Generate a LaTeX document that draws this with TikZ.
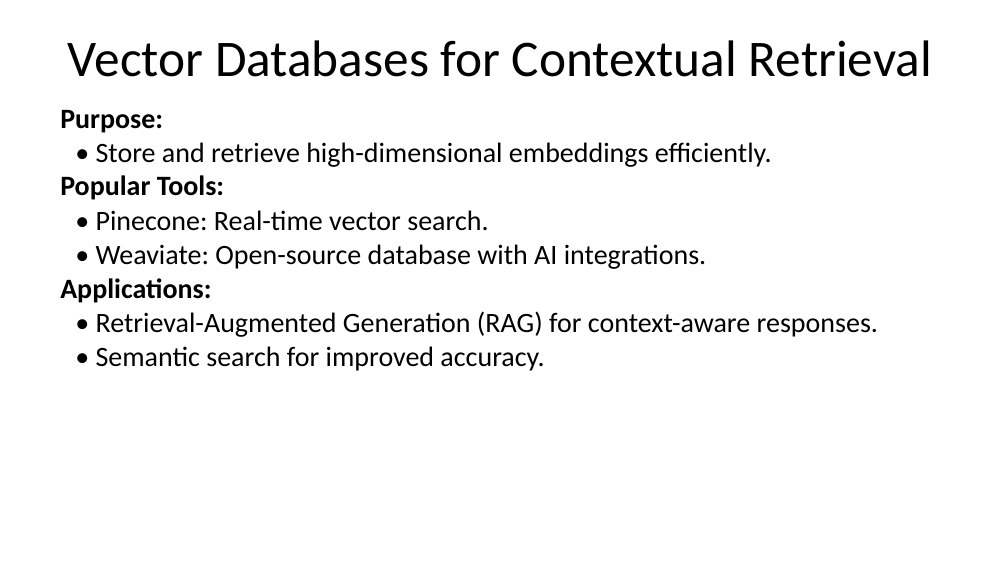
\documentclass[tikz,border=0pt]{standalone}
\usepackage{fontspec}
\setmainfont{Carlito}
\frenchspacing
\usetikzlibrary{positioning}
\tikzset{
  head/.style={anchor=base west, inner sep=0pt, font=\fontsize{21}{24}\selectfont\bfseries},
  item/.style={anchor=base west, inner sep=0pt, font=\fontsize{21}{24}\selectfont},
}
\begin{document}
\begin{tikzpicture}[x=0.75pt,y=-0.75pt]
    \useasboundingbox (0,0) rectangle (1000,563);

    \node[anchor=base, inner sep=0pt, font=\fontsize{38.5}{42}\selectfont] (title) at (500,77) {Vector Databases for Contextual Retrieval};

    \node[head] (purpose) at (60,129) {Purpose:};
    \node[item] (store) at (75,163) {\textbullet\ Store and retrieve high-dimensional embeddings efficiently.};

    \node[head] (tools) at (60,196) {Popular Tools:};
    \node[item] (pine) at (75,230) {\textbullet\ Pinecone: Real-time vector search.};
    \node[item] (weav) at (75,264) {\textbullet\ Weaviate: Open-source database with AI integrations.};

    \node[head] (apps) at (60,298) {Applications:};
    \node[item] (rag) at (75,332) {\textbullet\ Retrieval-Augmented Generation (RAG) for context-aware responses.};
    \node[item] (sem) at (75,366) {\textbullet\ Semantic search for improved accuracy.};
\end{tikzpicture}
\end{document}
